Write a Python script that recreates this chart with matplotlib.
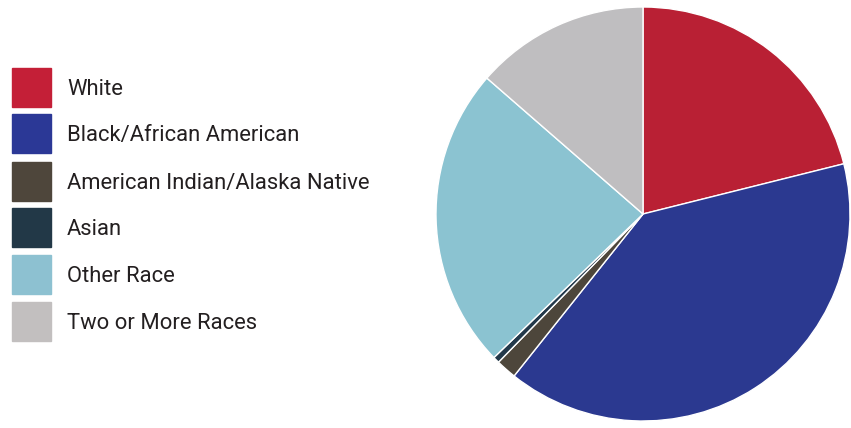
import matplotlib
matplotlib.use("Agg")
import matplotlib.pyplot as plt
from matplotlib.patches import Rectangle

plt.rcParams['font.family'] = ['Roboto', 'DejaVu Sans']

labels = ['White', 'Black/African American', 'American Indian/Alaska Native',
          'Asian', 'Other Race', 'Two or More Races']
shares = [21.1, 39.6, 1.6, 0.5, 23.6, 13.6]
colors = ['#B92034', '#2B3990', '#4D463B', '#22384A', '#8BC3D1', '#BFBEC0']
legend_colors = ['#C41F37', '#2B3896', '#4E463B', '#223847', '#8DC1D1', '#C2BFBF']

W, H = 851, 428
fig = plt.figure(figsize=(W / 100, H / 100), dpi=100)

# pie: center (643, 214), radius ~207 px
cx, cy, r = 643, 214, 207
ax = fig.add_axes([(cx - r) / W, (H - cy - r) / H, 2 * r / W, 2 * r / H])
ax.pie(shares, colors=colors, startangle=90, counterclock=False,
       wedgeprops=dict(edgecolor='white', linewidth=1.0))
ax.set_aspect('auto')
ax.set_xlim(-1, 1)
ax.set_ylim(-1, 1)

# legend drawn by hand
row_y = [87, 133, 181, 227, 274, 321]
for lab, col, y in zip(labels, legend_colors, row_y):
    fig.patches.append(Rectangle((12 / W, (H - y - 19.5) / H), 39 / W, 39 / H,
                                 transform=fig.transFigure, color=col))
    fig.text(67 / W, (H - y - 2.5) / H, lab, fontsize=15.8, color='#231F20',
             va='center', ha='left')

fig.savefig('out.png', dpi=100)
